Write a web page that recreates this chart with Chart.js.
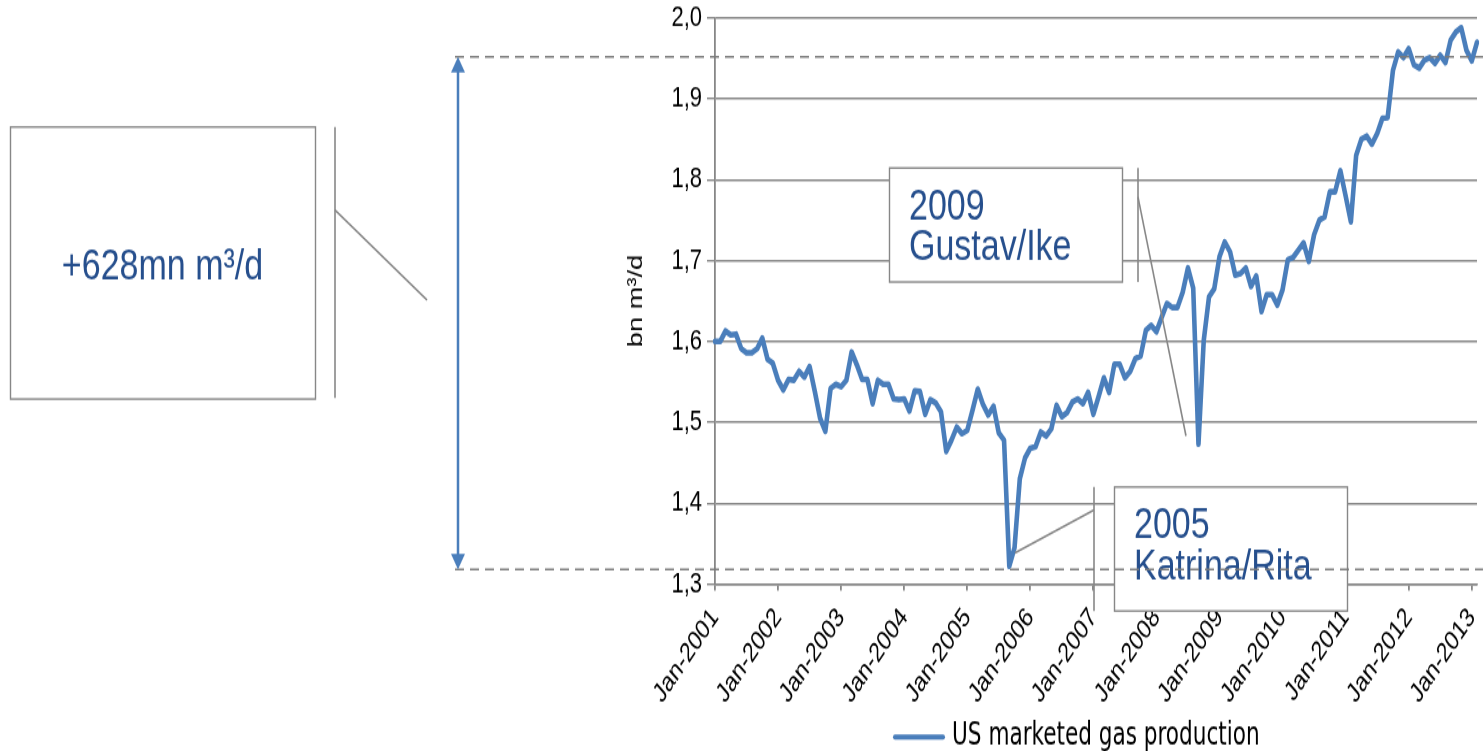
<!DOCTYPE html>
<html>
<head>
<meta charset="utf-8">
<script src="https://cdn.jsdelivr.net/npm/chart.js@4.4.1/dist/chart.umd.min.js"></script>
<style>
  html, body { margin: 0; padding: 0; background: #fff; overflow: hidden; }
  canvas { display: block; }
</style>
</head>
<body>
<!-- drawn at 578 px high and shown at 751: the source picture is stretched vertically -->
<canvas id="chart1" width="1483" height="578" style="width:1483px;height:751px"></canvas>
<script>
const months = ["Jan", "Feb", "Mar", "Apr", "May", "Jun", "Jul", "Aug", "Sep", "Oct", "Nov", "Dec"];
const startYear = 2001;

// monthly US marketed gas production, bn m3/d, Jan-2001 .. Feb-2013
const production = [
  1.600, 1.600, 1.613, 1.608, 1.609, 1.591, 1.586, 1.586, 1.591, 1.604, 1.578, 1.573,
  1.552, 1.540, 1.553, 1.552, 1.563, 1.556, 1.569, 1.538, 1.505, 1.489, 1.542, 1.547,
  1.544, 1.552, 1.587, 1.571, 1.553, 1.553, 1.523, 1.552, 1.547, 1.547, 1.529, 1.528,
  1.529, 1.514, 1.539, 1.538, 1.510, 1.528, 1.524, 1.513, 1.464, 1.478, 1.494, 1.486,
  1.490, 1.515, 1.541, 1.522, 1.509, 1.520, 1.487, 1.478, 1.322, 1.345, 1.430, 1.456,
  1.468, 1.470, 1.488, 1.483, 1.492, 1.521, 1.507, 1.512, 1.525, 1.529, 1.523, 1.537,
  1.510, 1.532, 1.555, 1.537, 1.572, 1.572, 1.555, 1.563, 1.579, 1.582, 1.614, 1.620,
  1.612, 1.630, 1.647, 1.642, 1.642, 1.661, 1.691, 1.666, 1.473, 1.601, 1.655, 1.665,
  1.705, 1.723, 1.711, 1.682, 1.684, 1.691, 1.668, 1.681, 1.637, 1.658, 1.658, 1.645,
  1.664, 1.701, 1.704, 1.713, 1.722, 1.699, 1.732, 1.750, 1.754, 1.785, 1.785, 1.811,
  1.780, 1.748, 1.830, 1.850, 1.854, 1.844, 1.857, 1.876, 1.877, 1.935, 1.958, 1.951,
  1.962, 1.942, 1.938, 1.948, 1.951, 1.944, 1.954, 1.945, 1.973, 1.983, 1.988, 1.960,
  1.947, 1.970
];

const categories = production.map((v, i) => months[i % 12] + "-" + (startYear + Math.floor(i / 12)));

const yMin = 1.3;
const yMax = 2.0;
const refHigh = 1.952;
const refLow = 1.318;
const increaseText = "+628mn m³/d";
const seriesName = "US marketed gas production";

const lineBlue = "#4a7ebb";
const gridGrey = "#878787";
const noteBlue = "#264f8d";

// screen px -> canvas px (vertical only)
const stretch = 751 / 578;
const sy = (p) => p / stretch;

// callout boxes, lines and the span marker
const notes = {
  id: "notes",
  afterDraw(chart) {
    const c = chart.ctx;
    const y = chart.scales.y;
    c.save();

    // text boxes
    c.lineWidth = 1.4;
    c.strokeStyle = gridGrey;
    const boxes = [
      { x: 10, y: 127, w: 305, h: 272, lines: [increaseText], ty: [267] },
      { x: 889, y: 168, w: 233, h: 114, lines: ["2009", "Gustav/Ike"], ty: [207, 248] },
      { x: 1114, y: 487, w: 233, h: 124, lines: ["2005", "Katrina/Rita"], ty: [526, 567] }
    ];
    boxes.forEach(b => {
      c.fillStyle = "#fff";
      c.fillRect(b.x, sy(b.y), b.w, sy(b.h));
      c.strokeRect(b.x + 0.5, sy(b.y), b.w, sy(b.h));
      c.fillStyle = noteBlue;
      c.font = "34px 'Liberation Sans', Arial, sans-serif";
      c.textBaseline = "middle";
      if (b.lines.length === 1) {
        c.textAlign = "center";
        c.fillText(b.lines[0], b.x + b.w / 2, sy(b.ty[0]));
      } else {
        c.textAlign = "left";
        b.lines.forEach((t, i) => c.fillText(t, b.x + 20, sy(b.ty[i])));
      }
    });

    // leader lines
    c.strokeStyle = gridGrey;
    c.lineWidth = 1.6;
    const segs = [
      [335, 127, 335, 398], [335, 210, 427, 300],
      [1138, 168, 1138, 282], [1138, 197, 1186, 436],
      [1094, 487, 1094, 611], [1094, 510, 1015, 553]
    ];
    segs.forEach(s => {
      c.beginPath();
      c.moveTo(s[0], sy(s[1]));
      c.lineTo(s[2], sy(s[3]));
      c.stroke();
    });

    // dashed reference levels
    const yHi = y.getPixelForValue(refHigh);
    const yLo = y.getPixelForValue(refLow);
    c.setLineDash([9, 6]);
    c.strokeStyle = "#7a7a7a";
    c.lineWidth = 1.4;
    [yHi, yLo].forEach(p => {
      c.beginPath();
      c.moveTo(455, p);
      c.lineTo(chart.width, p);
      c.stroke();
    });
    c.setLineDash([]);

    // double arrow
    const ax = 458;
    c.strokeStyle = lineBlue;
    c.fillStyle = lineBlue;
    c.lineWidth = 2.5;
    c.beginPath();
    c.moveTo(ax, yHi + 8);
    c.lineTo(ax, yLo - 8);
    c.stroke();
    c.beginPath();
    c.moveTo(ax, yHi);
    c.lineTo(ax - 7, yHi + 12);
    c.lineTo(ax + 7, yHi + 12);
    c.closePath();
    c.fill();
    c.beginPath();
    c.moveTo(ax, yLo);
    c.lineTo(ax - 7, yLo - 12);
    c.lineTo(ax + 7, yLo - 12);
    c.closePath();
    c.fill();

    // legend
    const lx = 893, ly = sy(737);
    c.strokeStyle = lineBlue;
    c.lineWidth = 4;
    c.lineCap = "round";
    c.beginPath();
    c.moveTo(lx + 2, ly);
    c.lineTo(lx + 50, ly);
    c.stroke();
    c.fillStyle = "#000";
    c.font = "24px 'Liberation Sans Narrow', 'DejaVu Sans Condensed', sans-serif";
    c.textAlign = "left";
    c.textBaseline = "middle";
    c.fillText(seriesName, lx + 59, ly);

    c.restore();
  }
};

new Chart(document.getElementById("chart1"), {
  type: "line",
  data: {
    labels: categories,
    datasets: [
      {
        label: seriesName,
        data: production,
        borderColor: lineBlue,
        borderWidth: 4.6,
        borderJoinStyle: "round",
        borderCapStyle: "round",
        pointRadius: 0,
        tension: 0,
        fill: false,
      },
    ],
  },
  options: {
    responsive: false,
    animation: false,
    devicePixelRatio: 1,
    layout: {
      padding: { left: 600, right: 6, top: sy(18), bottom: 0 },
    },
    plugins: {
      legend: { display: false },
      tooltip: { enabled: false },
    },
    scales: {
      x: {
        type: "category",
        offset: false,
        afterFit: (s) => {
          s.height = 578 - sy(584);
          s.paddingLeft = 0;
          s.paddingRight = 0;
        },
        grid: {
          drawOnChartArea: false,
          drawTicks: true,
          tickLength: 5,
          lineWidth: 1.8,
          color: (ctx) => (ctx.index % 12 === 0 ? gridGrey : "rgba(0,0,0,0)"),
        },
        border: { color: gridGrey, width: 1.4 },
        ticks: {
          autoSkip: false,
          maxRotation: 49,
          minRotation: 49,
          padding: 9,
          color: "#000",
          font: { family: "'Liberation Sans', Arial, sans-serif", size: 21 },
          callback: (v, i) => (i % 12 === 0 ? categories[i] : ""),
        },
      },
      y: {
        min: yMin,
        max: yMax,
        afterFit: (s) => {
          s.width = 115;
          s.paddingTop = 0;
          s.paddingBottom = 0;
        },
        grid: { color: gridGrey, lineWidth: 1.4, tickLength: 8 },
        border: { color: gridGrey, width: 1.8 },
        ticks: {
          stepSize: 0.1,
          padding: 5,
          color: "#000",
          font: { family: "'Liberation Sans', Arial, sans-serif", size: 22 },
          callback: (v) => v.toFixed(1).replace(".", ","),
        },
        title: {
          display: true,
          text: "bn m³/d",
          color: "#000",
          padding: { top: 24, bottom: 0 },
          font: { family: "'Liberation Sans', Arial, sans-serif", size: 21 },
        },
      },
    },
  },
  plugins: [notes],
});
</script>
</body>
</html>
